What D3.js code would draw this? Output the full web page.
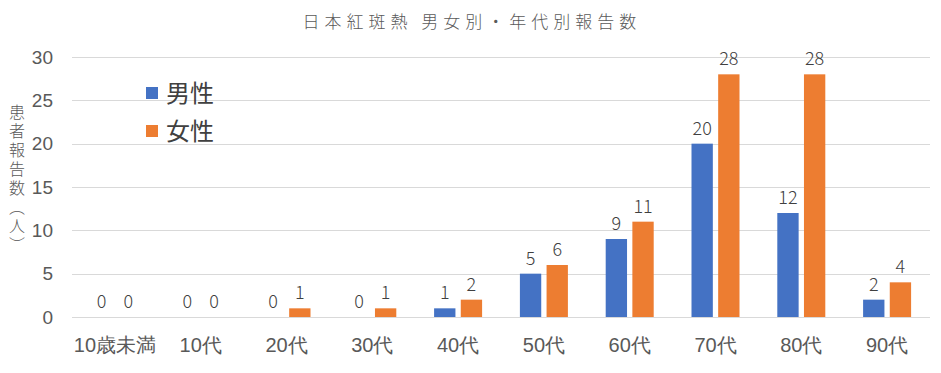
<!DOCTYPE html>
<html>
<head>
    <meta charset="utf-8">
    <title>日本紅斑熱 男女別・年代別報告数</title>
    <script src="https://cdnjs.cloudflare.com/ajax/libs/d3/7.8.5/d3.min.js"></script>
    <style>
        body { margin: 0; background: #fff; }
        svg { font-family: "Noto Sans CJK JP", sans-serif; }
        .grid line { stroke: #d9d9d9; stroke-width: 1; shape-rendering: crispEdges; }
        .grid path { stroke-width: 0; }
        .axis path, .axis line { display: none; }
        .axis text { fill: #595959; font-weight: 300; }
        .value { fill: #404040; font-size: 18px; font-weight: 300; }
    </style>
</head>
<body>
    <div id="chart"></div>
    <script>
        const categories = ["10歳未満", "10代", "20代", "30代", "40代", "50代", "60代", "70代", "80代", "90代"];
        const male = [0, 0, 0, 0, 1, 5, 9, 20, 12, 2];
        const female = [0, 0, 1, 1, 2, 6, 11, 28, 28, 4];
        const seriesNames = ["男性", "女性"];
        const yTicks = [0, 5, 10, 15, 20, 25, 30];

        const W = 941, H = 373;
        const margin = {top: 57, right: 11, bottom: 56, left: 72};
        const width = W - margin.left - margin.right;
        const height = H - margin.top - margin.bottom;

        const svg = d3.select("#chart").append("svg")
            .attr("width", W)
            .attr("height", H);

        const g = svg.append("g")
            .attr("transform", `translate(${margin.left},${margin.top})`);

        const x0 = d3.scaleBand().domain(categories).range([0, width]);
        const x1 = d3.scaleBand().domain(seriesNames)
            .range([x0.bandwidth() / 2 - 24, x0.bandwidth() / 2 + 24])
            .paddingInner(0.2);
        const y = d3.scaleLinear().domain([0, 30]).range([height, 0]);
        const color = d3.scaleOrdinal().domain(seriesNames).range(["#4472C4", "#ED7D31"]);

        // gridlines
        g.append("g")
            .attr("class", "grid")
            .call(d3.axisLeft(y).tickValues(yTicks).tickSize(-width).tickFormat(""));

        // y axis
        g.append("g")
            .attr("class", "axis")
            .call(d3.axisLeft(y).tickValues(yTicks).tickSize(0).tickPadding(19))
            .selectAll("text")
            .style("font-size", "19px");

        // x axis
        g.append("g")
            .attr("class", "axis")
            .attr("transform", `translate(0,${height})`)
            .call(d3.axisBottom(x0).tickSize(0).tickPadding(21))
            .selectAll("text")
            .style("font-size", "20px");

        const rows = categories.map((c, i) => ({cat: c, 男性: male[i], 女性: female[i]}));

        const groups = g.selectAll(".cat")
            .data(rows)
            .join("g")
            .attr("transform", d => `translate(${x0(d.cat)},0)`);

        groups.selectAll("rect")
            .data(d => seriesNames.map(s => ({s, v: d[s]})))
            .join("rect")
            .attr("x", d => x1(d.s))
            .attr("y", d => y(d.v))
            .attr("width", x1.bandwidth())
            .attr("height", d => height - y(d.v))
            .attr("fill", d => color(d.s));

        groups.selectAll("text")
            .data(d => seriesNames.map(s => ({s, v: d[s]})))
            .join("text")
            .attr("class", "value")
            .attr("x", d => x1(d.s) + x1.bandwidth() / 2)
            .attr("y", d => y(d.v) - 9)
            .attr("text-anchor", "middle")
            .text(d => d.v);

        // title
        svg.append("text")
            .attr("x", 472)
            .attr("y", 28)
            .attr("text-anchor", "middle")
            .style("font-size", "17px")
            .style("font-weight", "300")
            .style("fill", "#595959")
            .style("letter-spacing", "5px")
            .text("日本紅斑熱 男女別・年代別報告数");

        // y axis title (vertical writing)
        svg.append("text")
            .attr("x", 17)
            .attr("y", 104)
            .style("writing-mode", "vertical-rl")
            .style("text-orientation", "upright")
            .style("font-size", "16px")
            .style("font-weight", "300")
            .style("letter-spacing", "3px")
            .style("fill", "#595959")
            .text("患者報告数（人）");

        // legend
        const legend = svg.append("g").attr("transform", "translate(146,87)");
        seriesNames.forEach((s, i) => {
            const row = legend.append("g").attr("transform", `translate(0,${i * 38})`);
            row.append("rect")
                .attr("width", 12).attr("height", 12)
                .attr("fill", color(s));
            row.append("text")
                .attr("x", 20).attr("y", 15)
                .style("font-size", "24px")
                .style("fill", "#404040")
                .text(s);
        });
    </script>
</body>
</html>
